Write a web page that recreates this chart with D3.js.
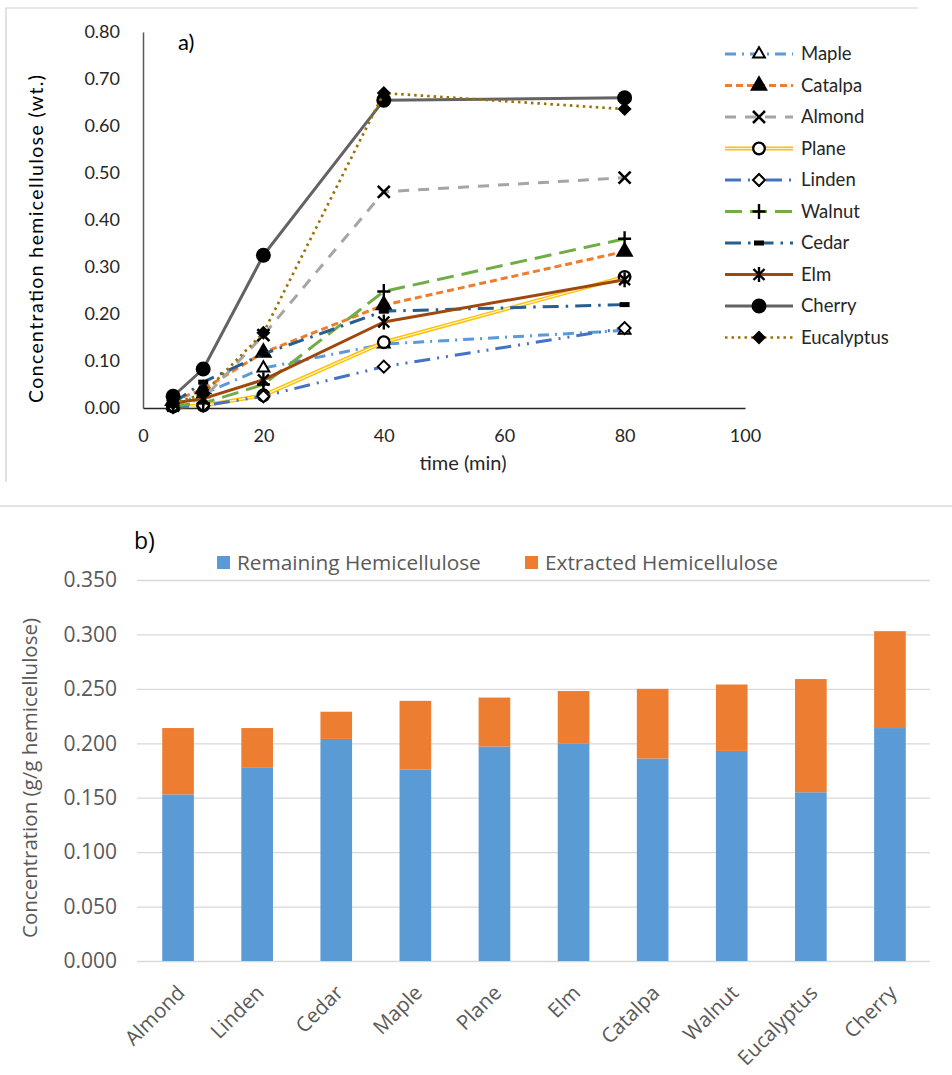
<!DOCTYPE html>
<html>
<head>
<meta charset="utf-8">
<script src="https://cdn.jsdelivr.net/npm/d3@7"></script>
<style>
  html, body { margin: 0; padding: 0; background: #fff; }
  svg { display: block; }
</style>
</head>
<body>
<svg id="chart" width="952" height="1075"></svg>
<script>
// ---- Panel a) hemicellulose concentration over time ----
const times = [5, 10, 20, 40, 80];
const mapleVals      = [0.005, 0.030, 0.085, 0.136, 0.165];
const catalpaVals    = [0.015, 0.040, 0.118, 0.219, 0.333];
const almondVals     = [0.005, 0.020, 0.155, 0.460, 0.490];
const planeVals      = [0.003, 0.005, 0.027, 0.140, 0.279];
const lindenVals     = [0.002, 0.005, 0.025, 0.088, 0.170];
const walnutVals     = [0.005, 0.010, 0.050, 0.248, 0.360];
const cedarVals      = [0.010, 0.055, 0.115, 0.206, 0.220];
const elmVals        = [0.010, 0.020, 0.060, 0.183, 0.273];
const cherryVals     = [0.025, 0.083, 0.325, 0.655, 0.660];
const eucalyptusVals = [0.010, 0.030, 0.160, 0.670, 0.636];
const seriesNames = ["Maple", "Catalpa", "Almond", "Plane", "Linden", "Walnut", "Cedar", "Elm", "Cherry", "Eucalyptus"];
const xTicksA = [0, 20, 40, 60, 80, 100];
const yTicksA = [0, 0.1, 0.2, 0.3, 0.4, 0.5, 0.6, 0.7, 0.8];

// ---- Panel b) remaining vs extracted hemicellulose ----
const woods     = ["Almond", "Linden", "Cedar", "Maple", "Plane", "Elm", "Catalpa", "Walnut", "Eucalyptus", "Cherry"];
const remaining = [0.153, 0.178, 0.204, 0.176, 0.197, 0.200, 0.186, 0.193, 0.155, 0.214];
const extracted = [0.061, 0.036, 0.025, 0.063, 0.045, 0.048, 0.064, 0.061, 0.104, 0.089];
const stackKeys = ["Remaining Hemicellulose", "Extracted Hemicellulose"];
const yTicksB = [0, 0.05, 0.1, 0.15, 0.2, 0.25, 0.3, 0.35];

const svg = d3.select("#chart");

// panel frames
svg.append("path").attr("d", "M6,482 V8 H918").attr("fill", "none").attr("stroke", "#d0d0d0").attr("stroke-width", 1.2);
svg.append("line").attr("x1", 0).attr("x2", 952).attr("y1", 506).attr("y2", 506).attr("stroke", "#c8c8c8").attr("stroke-width", 1.2);

// ================= Panel a =================
const fontA = "Lato, 'Liberation Sans', sans-serif";
const xA = d3.scaleLinear().domain([0, 100]).range([143, 745]);
const yA = d3.scaleLinear().domain([0, 0.8]).range([408, 32]);

const gA = svg.append("g");
gA.append("g").attr("transform", "translate(0,408)")
  .call(d3.axisBottom(xA).tickValues(xTicksA).tickSize(0).tickPadding(21).tickFormat(d3.format("d")))
  .call(g => {
    g.select(".domain").attr("stroke", "#262626").attr("stroke-width", 1.5);
    g.selectAll("text").attr("font-family", fontA).attr("font-size", 18).attr("fill", "#262626");
  });
gA.append("g").attr("transform", "translate(143,0)")
  .call(d3.axisLeft(yA).tickValues(yTicksA).tickSize(0).tickPadding(23).tickFormat(d3.format(".2f")))
  .call(g => {
    g.select(".domain").attr("stroke", "#595959").attr("stroke-width", 1.5);
    g.selectAll("text").attr("font-family", fontA).attr("font-size", 18).attr("fill", "#262626");
  });

gA.append("text").attr("x", 463).attr("y", 470).attr("text-anchor", "middle")
  .attr("font-family", fontA).attr("font-size", 20).attr("fill", "#262626").text("time (min)");
gA.append("text").attr("transform", "translate(43,239) rotate(-90)").attr("text-anchor", "middle")
  .attr("font-family", fontA).attr("font-size", 19.5).attr("fill", "#000")
  .attr("textLength", 328).attr("lengthAdjust", "spacing")
  .text("Concentration hemicellulose (wt.)");
gA.append("text").attr("x", 178).attr("y", 50).attr("font-family", fontA).attr("font-size", 22).attr("fill", "#000").text("a)");

// marker painters
const diamondPath = r => `M0,${-r}L${r},0L0,${r}L${-r},0Z`;
function marker(g, type, x, y) {
  const k = g.append("g").attr("transform", `translate(${x},${y})`);
  const sym = (t, size, fill) => k.append("path").attr("d", d3.symbol(t, size)()).attr("fill", fill).attr("stroke", "#000").attr("stroke-width", 2);
  switch (type) {
    case "triOpen":  sym(d3.symbolTriangle, 60, "#fff"); break;
    case "triFill":  sym(d3.symbolTriangle, 90, "#000"); break;
    case "cross":
      k.append("path").attr("d", "M-6,-6L6,6M-6,6L6,-6").attr("stroke", "#000").attr("stroke-width", 2.6); break;
    case "circOpen": k.append("circle").attr("r", 5.8).attr("fill", "#fff").attr("stroke", "#000").attr("stroke-width", 2.3); break;
    case "diaOpen":  k.append("path").attr("d", diamondPath(6)).attr("fill", "#fff").attr("stroke", "#000").attr("stroke-width", 2); break;
    case "plus":
      k.append("path").attr("d", "M-6.5,0H6.5M0,-7.5V7.5").attr("stroke", "#000").attr("stroke-width", 2.4); break;
    case "dash":     k.append("rect").attr("x", -5).attr("y", -2.5).attr("width", 10).attr("height", 5).attr("fill", "#000"); break;
    case "star":
      k.append("path").attr("d", "M-5.5,-5.5L5.5,5.5M-5.5,5.5L5.5,-5.5M0,-7.5V7.5").attr("stroke", "#000").attr("stroke-width", 2.4); break;
    case "circFill": k.append("circle").attr("r", 7.5).attr("fill", "#000"); break;
    case "diaFill":  k.append("path").attr("d", diamondPath(7)).attr("fill", "#000"); break;
  }
}

const styles = {
  Maple:      { values: mapleVals,      color: "#5B9BD5", dash: "11,6,2,6",      width: 3,   m: "triOpen" },
  Catalpa:    { values: catalpaVals,    color: "#ED7D31", dash: "7,4",           width: 3,   m: "triFill" },
  Almond:     { values: almondVals,     color: "#A5A5A5", dash: "11,9",          width: 3,   m: "cross" },
  Plane:      { values: planeVals,      color: "#FFC000", dash: null,            width: 4,   m: "circOpen", dbl: true },
  Linden:     { values: lindenVals,     color: "#4472C4", dash: "16,7,2,7,2,7",  width: 3,   m: "diaOpen" },
  Walnut:     { values: walnutVals,     color: "#70AD47", dash: "17,8",          width: 3,   m: "plus" },
  Cedar:      { values: cedarVals,      color: "#255E91", dash: "16,7,2.5,7",    width: 3,   m: "dash" },
  Elm:        { values: elmVals,        color: "#9E480E", dash: null,            width: 3,   m: "star" },
  Cherry:     { values: cherryVals,     color: "#636363", dash: null,            width: 3,   m: "circFill" },
  Eucalyptus: { values: eucalyptusVals, color: "#997300", dash: "2.5,4",         width: 2.7, m: "diaFill" }
};

function strokeLine(g, d, s) {
  const p = g.append("path").attr("d", d).attr("fill", "none").attr("stroke", s.color)
    .attr("stroke-width", s.width).attr("stroke-linejoin", "round");
  if (s.dash) p.attr("stroke-dasharray", s.dash);
  if (s.dbl) g.append("path").attr("d", d).attr("fill", "none").attr("stroke", "#FFF5D6").attr("stroke-width", 1.2);
}

const line = d3.line().x(d => xA(d[0])).y(d => yA(d[1]));
seriesNames.forEach(name => {
  const s = styles[name];
  const pts = times.map((t, i) => [t, s.values[i]]);
  const g = gA.append("g");
  strokeLine(g, line(pts), s);
  pts.forEach(p => marker(g, s.m, xA(p[0]), yA(p[1])));
});

// legend for panel a
const legA = gA.append("g");
seriesNames.forEach((name, i) => {
  const s = styles[name];
  const y = 54 + i * 31.5;
  const g = legA.append("g");
  strokeLine(g, `M725,${y}H793`, s);
  marker(g, s.m, 759, y);
  g.append("text").attr("x", 801).attr("y", y).attr("dy", "0.35em")
    .attr("font-family", fontA).attr("font-size", 18.5).attr("fill", "#262626").text(name);
});

// ================= Panel b =================
const fontB = "'Open Sans', 'Noto Sans', sans-serif";
const xB = d3.scaleBand().domain(woods).range([138.5, 929.5]).paddingInner(0.6).paddingOuter(0.3);
const yB = d3.scaleLinear().domain([0, 0.35]).range([961, 580]);

const gB = svg.append("g");
gB.append("g").attr("transform", "translate(137,0)")
  .call(d3.axisLeft(yB).tickValues(yTicksB).tickSize(-793).tickPadding(20).tickFormat(d3.format(".3f")))
  .call(g => {
    g.select(".domain").remove();
    g.selectAll(".tick line").attr("stroke", "#D9D9D9").attr("stroke-width", 1.3);
    g.selectAll("text").attr("font-family", fontB).attr("font-size", 21).attr("fill", "#595959");
  });

const rows = woods.map((w, i) => ({ wood: w, [stackKeys[0]]: remaining[i], [stackKeys[1]]: extracted[i] }));
const stacked = d3.stack().keys(stackKeys)(rows);
const colorB = d3.scaleOrdinal().domain(stackKeys).range(["#5B9BD5", "#ED7D31"]);

gB.selectAll("g.layer").data(stacked).join("g").attr("class", "layer")
  .attr("fill", d => colorB(d.key))
  .selectAll("rect").data(d => d).join("rect")
  .attr("x", d => xB(d.data.wood))
  .attr("width", xB.bandwidth())
  .attr("y", d => yB(d[1]))
  .attr("height", d => yB(d[0]) - yB(d[1]));

// category labels, rotated
gB.append("g").selectAll("text").data(woods).join("text")
  .attr("transform", d => `translate(${xB(d) + xB.bandwidth() / 2 + 3},${989}) rotate(-45)`)
  .attr("text-anchor", "end")
  .attr("dy", "0.35em")
  .attr("font-family", fontB).attr("font-size", 20.5).attr("fill", "#595959")
  .text(d => d);

gB.append("text").attr("transform", "translate(37,778) rotate(-90)").attr("text-anchor", "middle")
  .attr("font-family", fontB).attr("font-size", 20.5).attr("fill", "#595959")
  .text("Concentration (g/g hemicellulose)");

gB.append("text").attr("x", 134).attr("y", 549).attr("font-family", fontB).attr("font-size", 23).attr("fill", "#000").text("b)");

// legend for panel b
const legB = gB.append("g");
const legPos = [217, 525];
stackKeys.forEach((k, i) => {
  legB.append("rect").attr("x", legPos[i]).attr("y", 556).attr("width", 13).attr("height", 13).attr("fill", colorB(k));
  legB.append("text").attr("x", legPos[i] + 20).attr("y", 563).attr("dy", "0.35em")
    .attr("font-family", fontB).attr("font-size", 20.8).attr("fill", "#595959").text(k);
});
</script>
</body>
</html>
